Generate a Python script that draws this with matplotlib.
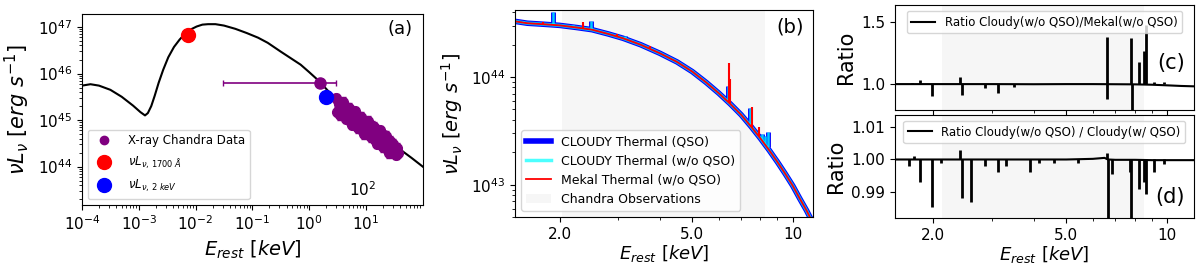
import numpy as np
import matplotlib.pyplot as plt
from matplotlib.ticker import FixedLocator, FixedFormatter, NullFormatter

# ---------------- panel (a): broad-band SED ----------------
sed_logE = [-4.0, -3.85, -3.7, -3.5, -3.3, -3.1, -2.97, -2.89, -2.84, -2.78, -2.72,
            -2.65, -2.57, -2.48, -2.38, -2.28, -2.18, -2.08, -1.98, -1.88, -1.78,
            -1.65, -1.5, -1.3, -1.1, -0.9, -0.73, -0.5, -0.3, -0.15, 0.0, 0.19,
            0.3, 0.43, 0.6, 0.8, 1.0, 1.2, 1.4, 1.6, 1.8, 2.0]
sed_logL = [45.74, 45.77, 45.74, 45.65, 45.50, 45.31, 45.17, 45.10, 45.15, 45.30, 45.52,
            45.80, 46.08, 46.35, 46.57, 46.73, 46.86, 46.95, 47.01, 47.05, 47.06,
            47.06, 47.03, 46.96, 46.87, 46.77, 46.66, 46.47, 46.31, 46.19, 46.03, 45.82,
            45.67, 45.50, 45.33, 45.14, 44.95, 44.76, 44.56, 44.37, 44.19, 44.00]

chandra_logE = [0.480, 0.498, 0.517, 0.535, 0.553, 0.572, 0.590, 0.608, 0.626, 0.645,
                0.663, 0.681, 0.700, 0.718, 0.736, 0.755, 0.773, 0.791, 0.809, 0.828,
                0.846, 0.864, 0.883, 0.901, 0.919, 0.938, 0.956, 0.974, 0.992, 1.011,
                1.029, 1.047, 1.066, 1.084, 1.102, 1.121, 1.139, 1.157, 1.175, 1.194,
                1.212, 1.230, 1.249, 1.267, 1.285, 1.304, 1.322, 1.340, 1.358, 1.377,
                1.395, 1.413, 1.432, 1.450, 1.468, 1.487, 1.505, 1.523, 1.541, 1.560]
chandra_logL = [45.47, 45.18, 45.34, 45.10, 45.35, 45.21, 45.39, 45.12, 45.21, 45.03,
                45.27, 45.09, 45.27, 44.98, 45.14, 44.90, 45.15, 45.00, 45.19, 44.92,
                45.00, 44.83, 45.07, 44.88, 45.07, 44.78, 44.93, 44.70, 44.95, 44.80,
                44.99, 44.72, 44.80, 44.63, 44.87, 44.68, 44.86, 44.58, 44.73, 44.49,
                44.75, 44.60, 44.78, 44.52, 44.60, 44.42, 44.67, 44.48, 44.66, 44.38,
                44.53, 44.29, 44.55, 44.40, 44.49, 44.31, 44.40, 44.26, 44.41, 44.30]
chandra_err_dex = 0.1

soft_E, soft_L = 1.55, 6.3e45
soft_E_lo, soft_E_hi = 0.031, 2.95
uv_E, uv_L = 7.4e-3, 6.7e46
x2_E, x2_L = 2.0, 3.2e45

# ---------------- panel (b): thermal spectra ----------------
cont_E = [1.45, 1.6, 1.8, 2.0, 2.25, 2.5, 2.8, 3.1, 3.5, 4.0, 4.5, 5.0, 5.5,
          6.0, 6.5, 7.0, 7.5, 8.0, 8.5, 9.0, 9.5, 10.0, 10.5, 11.0, 11.6]
cont_logL = [44.52, 44.50, 44.49, 44.48, 44.46, 44.44, 44.40, 44.36, 44.30, 44.22,
             44.14, 44.05, 43.95, 43.85, 43.75, 43.65, 43.54, 43.43, 43.32, 43.21,
             43.10, 42.99, 42.87, 42.76, 42.62]

# emission lines: energy, continuum level, peak level (log erg/s)
mekal_line_E = [1.78, 2.35, 2.98, 3.72, 6.45, 6.50, 7.56, 7.90]
mekal_line_base = [44.49, 44.45, 44.38, 44.27, 43.76, 43.75, 43.53, 43.45]
mekal_line_peak = [44.51, 44.51, 44.40, 44.29, 44.13, 43.98, 43.72, 43.54]

cloudy_line_E = [1.55, 1.91, 2.2, 2.49, 3.15, 6.38, 7.45, 8.1, 8.25, 8.42]
cloudy_line_base = [44.50, 44.49, 44.47, 44.44, 44.36, 43.77, 43.55, 43.41, 43.38, 43.35]
cloudy_line_peak = [44.52, 44.60, 44.48, 44.52, 44.38, 43.92, 43.71, 43.47, 43.45, 43.49]

chandra_band_b = (2.03, 8.25)

# ---------------- panel (c): Cloudy / Mekal ratio ----------------
ratio_c_E = [1.54, 2.0, 3.0, 4.0, 5.0, 6.0, 7.0, 8.0, 9.0, 10.0, 11.0, 12.0]
ratio_c_base = [1.0, 1.0, 1.0, 0.999, 1.0, 1.0, 0.999, 0.998, 0.995, 0.99, 0.985, 0.982]
ratio_c_line_E = [1.73, 1.83, 1.99, 2.40, 2.44, 2.86, 3.12, 3.48, 6.60, 6.63,
                  7.80, 7.85, 8.26, 8.55, 8.67, 9.16, 9.80]
ratio_c_line_peak = [1.01, 1.03, 0.90, 1.06, 0.91, 0.97, 0.93, 0.98, 0.88, 1.38,
                     1.37, 0.75, 1.18, 1.27, 1.48, 1.02, 1.02]

# ---------------- panel (d): Cloudy(w/o QSO) / Cloudy(QSO) ----------------
ratio_d_E = [1.54, 2.0, 3.0, 4.0, 5.0, 6.0, 6.5, 6.65, 7.0, 8.0, 9.0, 10.0, 12.0]
ratio_d_base = [1.0, 1.0, 1.0, 1.0, 1.0, 1.0002, 1.0005, 1.0, 0.9999, 0.9999,
                0.9998, 0.9998, 0.9998]
ratio_d_line_E = [1.70, 1.76, 1.83, 1.99, 2.12, 2.40, 2.44, 2.60, 2.86, 3.12, 3.30,
                  3.90, 4.15, 4.60, 5.40, 6.60, 6.66, 6.85, 7.76, 7.82, 8.26, 8.55,
                  8.67, 9.16, 9.80]
ratio_d_line_peak = [0.998, 1.001, 0.993, 0.9855, 0.999, 1.003, 0.9883, 0.9868,
                     0.998, 0.996, 0.998, 0.996, 0.999, 0.999, 0.999, 1.002, 0.97,
                     0.9955, 0.996, 0.97, 0.991, 0.993, 0.9895, 0.996, 0.9985]
chandra_band_cd = (2.13, 8.55)


def log_energy_axis(ax):
    # shared tick layout for the 1.5 - 12 keV panels
    ax.set_xscale('log')
    ax.xaxis.set_major_locator(FixedLocator([2, 5, 10]))
    ax.xaxis.set_major_formatter(FixedFormatter(['2.0', '5.0', '10']))
    ax.xaxis.set_minor_locator(FixedLocator([3, 4, 6, 7, 8, 9]))
    ax.xaxis.set_minor_formatter(NullFormatter())


def main():
    fig = plt.figure(figsize=(12, 2.69), dpi=100)

    # ---- (a) ----
    ax = fig.add_axes([0.0683, 0.238, 0.284, 0.710])
    ax.plot(10 ** np.array(sed_logE), 10 ** np.array(sed_logL), color='black', lw=1.5, zorder=2)
    cE = 10 ** np.array(chandra_logE)
    cL = 10 ** np.array(chandra_logL)
    yerr = [cL * (1 - 10 ** -chandra_err_dex), cL * (10 ** chandra_err_dex - 1)]
    ax.errorbar(cE, cL, yerr=yerr, fmt='o', color='purple', ms=7, capsize=2, lw=1, zorder=3)
    ax.errorbar([soft_E], [soft_L], xerr=[[soft_E - soft_E_lo], [soft_E_hi - soft_E]],
                fmt='o', color='purple', ms=8, capsize=2, lw=1.2, zorder=3)
    ax.plot([], [], 'o', color='purple', ms=6, label='X-ray Chandra Data')
    ax.plot([uv_E], [uv_L], 'o', color='red', ms=10, zorder=4,
            label=r'$\nu L_{\nu,\,1700\ \AA}$')
    ax.plot([x2_E], [x2_L], 'o', color='blue', ms=10, zorder=4,
            label=r'$\nu L_{\nu,\,2\ keV}$')
    ax.set_xscale('log')
    ax.set_yscale('log')
    ax.set_xlim(1e-4, 1e2)
    ax.set_ylim(1.5e43, 1.9e47)
    ax.set_xticks([1e-4, 1e-3, 1e-2, 1e-1, 1e0, 1e1])
    ax.set_yticks([1e44, 1e45, 1e46, 1e47])
    ax.yaxis.set_minor_formatter(NullFormatter())
    ax.tick_params(labelsize=11)
    ax.set_xlabel(r'$E_{rest}$ [$keV$]', fontsize=14)
    ax.set_ylabel(r'$\nu L_{\nu}$ [$erg\ s^{-1}$]', fontsize=15)
    ax.legend(loc='lower left', fontsize=8.5, labelspacing=0.6, handletextpad=1.0)
    ax.text(0.824, 0.08, r'$10^2$', transform=ax.transAxes, ha='center', va='center', fontsize=11)
    ax.text(0.97, 0.92, '(a)', transform=ax.transAxes, ha='right', va='center', fontsize=13)

    # ---- (b) ----
    ax = fig.add_axes([0.4292, 0.193, 0.2483, 0.770])
    L = 10 ** np.array(cont_logL)
    ax.plot(cont_E, L, color='blue', lw=4, label='CLOUDY Thermal (QSO)')
    ax.vlines(cloudy_line_E, 10 ** np.array(cloudy_line_base), 10 ** np.array(cloudy_line_peak),
              color='blue', lw=3.5)
    ax.plot(cont_E, L, color='cyan', lw=2.5, alpha=0.7, label='CLOUDY Thermal (w/o QSO)')
    ax.vlines(cloudy_line_E, 10 ** np.array(cloudy_line_base), 10 ** np.array(cloudy_line_peak),
              color='cyan', lw=1.8, alpha=0.8)
    ax.plot(cont_E, L, color='red', lw=1.3, label='Mekal Thermal (w/o QSO)')
    ax.vlines(mekal_line_E, 10 ** np.array(mekal_line_base), 10 ** np.array(mekal_line_peak),
              color='red', lw=1.5)
    ax.axvspan(*chandra_band_b, color='lightgray', alpha=0.2, lw=0, label='Chandra Observations')
    ax.set_yscale('log')
    log_energy_axis(ax)
    ax.set_xlim(1.47, 11.5)
    ax.set_ylim(5e42, 4.2e44)
    ax.yaxis.set_minor_formatter(NullFormatter())
    ax.tick_params(labelsize=11)
    ax.set_xlabel(r'$E_{rest}$ [$keV$]', fontsize=13, labelpad=1)
    ax.set_ylabel(r'$\nu L_{\nu}$ [$erg\ s^{-1}$]', fontsize=14)
    ax.legend(loc='lower left', fontsize=9)
    ax.text(0.97, 0.92, '(b)', transform=ax.transAxes, ha='right', va='center', fontsize=14)

    # ---- (c) ----
    axc = fig.add_axes([0.7458, 0.591, 0.249, 0.390])
    axc.plot(ratio_c_E, ratio_c_base, color='black', lw=1.5,
             label='Ratio Cloudy(w/o QSO)/Mekal(w/o QSO)')
    axc.vlines(ratio_c_line_E, 1.0, ratio_c_line_peak, color='black', lw=2)
    axc.axvspan(*chandra_band_cd, color='lightgray', alpha=0.2, lw=0)
    axc.set_ylim(0.79, 1.64)
    axc.set_yticks([1.0, 1.5])
    axc.set_yticklabels(['1.0', '1.5'])
    axc.set_ylabel('Ratio', fontsize=15)
    axc.legend(loc='upper center', fontsize=8.5)
    axc.text(0.97, 0.45, '(c)', transform=axc.transAxes, ha='right', va='center', fontsize=15)

    # ---- (d) ----
    axd = fig.add_axes([0.7458, 0.1896, 0.249, 0.383], sharex=axc)
    axd.plot(ratio_d_E, ratio_d_base, color='black', lw=1.5,
             label='Ratio Cloudy(w/o QSO) / Cloudy(w/ QSO)')
    axd.vlines(ratio_d_line_E, 1.0, ratio_d_line_peak, color='black', lw=2)
    axd.axvspan(*chandra_band_cd, color='lightgray', alpha=0.2, lw=0)
    axd.set_ylim(0.982, 1.0137)
    axd.set_yticks([0.99, 1.00, 1.01])
    axd.set_yticklabels(['0.99', '1.00', '1.01'])
    axd.set_ylabel('Ratio', fontsize=15)
    axd.legend(loc='upper center', fontsize=8.5)
    axd.text(0.97, 0.2, '(d)', transform=axd.transAxes, ha='right', va='center', fontsize=15)

    log_energy_axis(axd)
    axd.set_xlim(1.54, 12.0)
    axd.set_xlabel(r'$E_{rest}$ [$keV$]', fontsize=13, labelpad=1)
    plt.setp(axc.get_xticklabels(), visible=False)
    for a in (axc, axd):
        a.tick_params(labelsize=11)

    fig.savefig('out.png', dpi=100)


if __name__ == "__main__":
    main()
